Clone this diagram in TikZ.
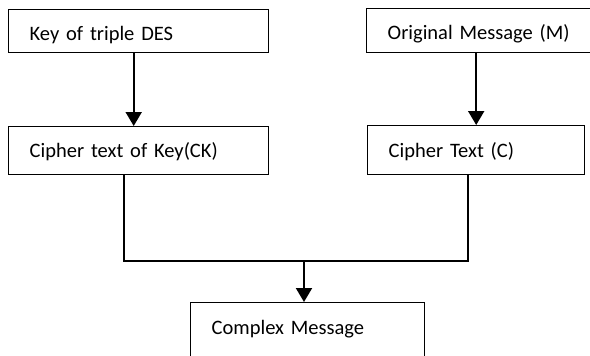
\documentclass[tikz,border=0pt]{standalone}
\usepackage{fontspec}
\setmainfont{Carlito}
\usetikzlibrary{arrows.meta}

\begin{document}
\begin{tikzpicture}[x=1pt, y=-1pt, every node/.style={font=\fontsize{20.5}{24}\selectfont},
	box/.style={draw, line width=1.4pt, rectangle, inner xsep=21pt, inner ysep=0pt, align=left, anchor=north west},
	link/.style={line width=2pt},
	arr/.style={line width=2pt, -{Triangle[width=16pt, length=14pt]}}]
	\useasboundingbox (0,0) rectangle (590,356);
	\clip (0,0) rectangle (590,356);
	% boxes
	\node[box, text width=218pt, minimum height=43pt, text height=22pt, text depth=3pt] (key) at (8,9) {Key of triple DES};
	\node[box, text width=188pt, minimum height=44pt, text height=21pt, text depth=3pt] (msg) at (366,8) {Original Message (M)};
	\node[box, text width=218pt, minimum height=48pt, text height=17pt, text depth=3pt] (ck) at (8,126) {Cipher text of Key(CK)};
	\node[box, text width=175pt, minimum height=49pt, text height=18pt, text depth=3pt] (ct) at (367,125) {Cipher Text (C)};
	\node[box, text width=192pt, minimum height=58pt, text height=15pt, text depth=9pt] (cm) at (190,302) {Complex Message};
	% connectors
	\coordinate (join) at (304,261);
	\draw[arr] ([xshift=-5pt]key.south) -- ([xshift=-5pt]ck.north);
	\draw[arr] (ct.north |- msg.south) -- (ct.north);
	\draw[link] ([xshift=116pt]ck.south west) |- (join) -| ([xshift=-8pt]ct.south);
	\draw[arr] (join) -- (join |- cm.north);
\end{tikzpicture}
\end{document}
